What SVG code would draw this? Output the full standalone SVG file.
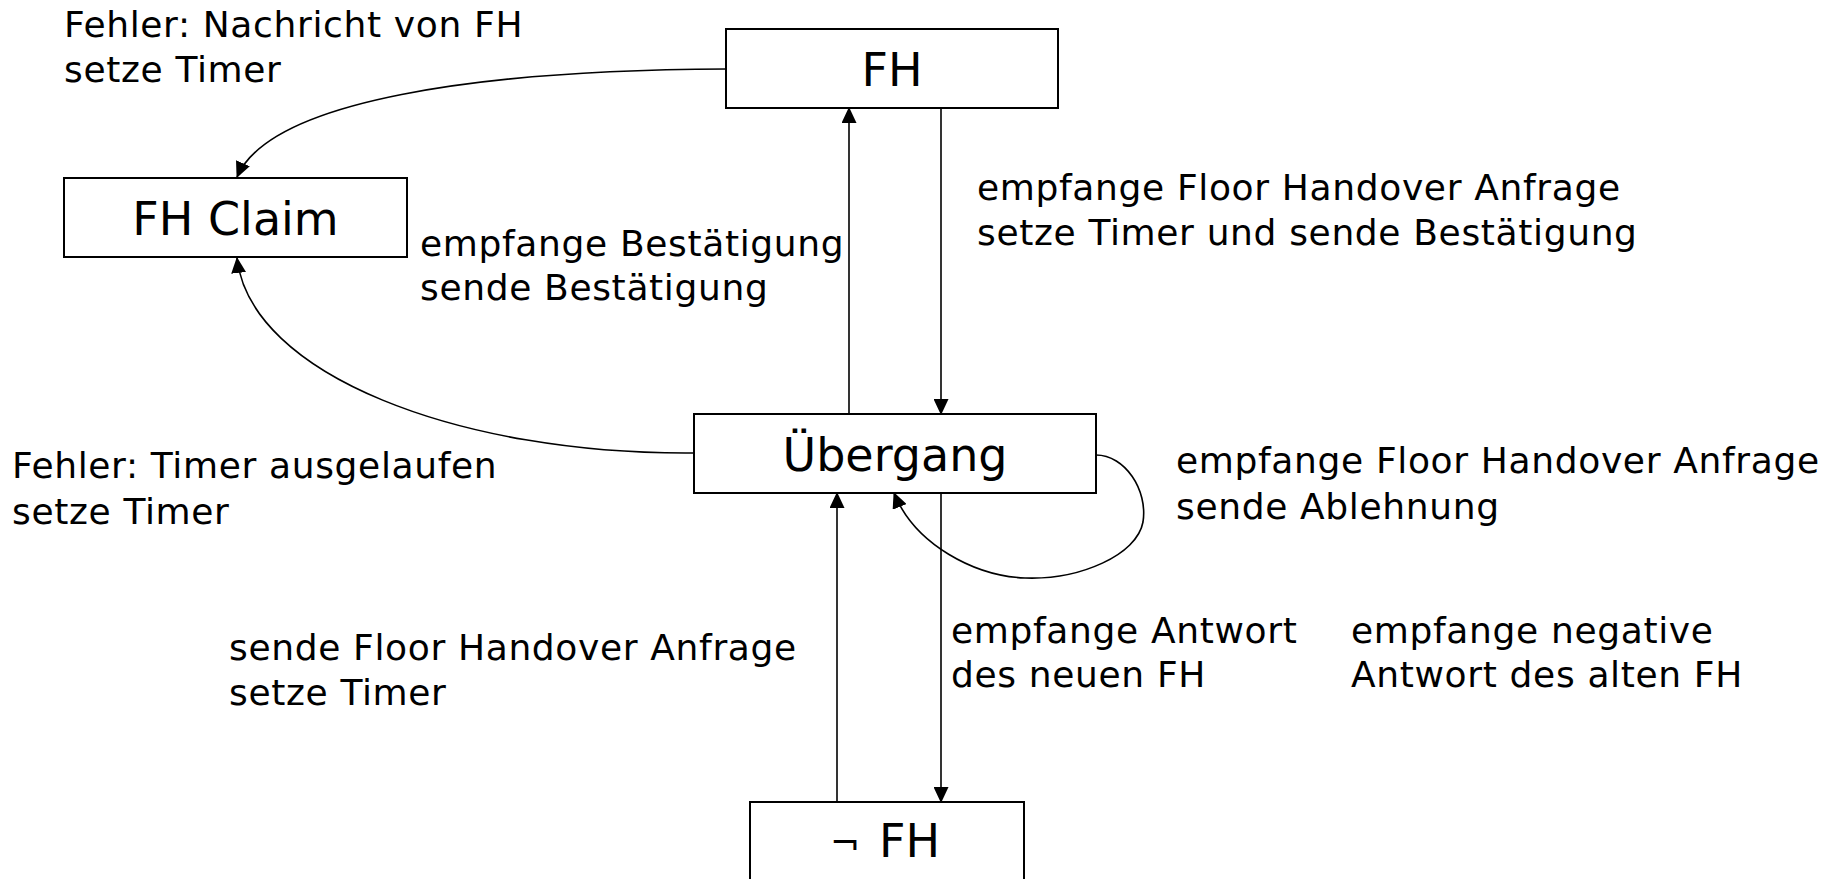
<svg xmlns="http://www.w3.org/2000/svg" width="1845" height="879" viewBox="0 0 1845 879">
<style>
.box{fill:#fff;stroke:#000;stroke-width:2}
.lbl{font-family:"DejaVu Sans","Verdana",sans-serif;font-size:46px;fill:#000;text-anchor:middle}
.t{font-family:"DejaVu Sans","Verdana",sans-serif;font-size:36px;fill:#000;letter-spacing:0.65px}
.c{fill:none;stroke:#000;stroke-width:1.6}
</style>
<defs>
<marker id="ah" markerUnits="userSpaceOnUse" markerWidth="16" markerHeight="15" refX="15" refY="7.5" orient="auto">
<path d="M0,0 L16,7.5 L0,15 z" fill="#000"/>
</marker>
</defs>
<rect width="1845" height="879" fill="#fff"/>
<g id="connectors">
<path class="c" d="M726,69 C480,70 270,100 237,177" marker-end="url(#ah)"/>
<path class="c" d="M694,453 C460,455 250,375 237,258" marker-end="url(#ah)"/>
<path class="c" d="M849,413 L849,108" marker-end="url(#ah)"/>
<path class="c" d="M941,101 L941,414" marker-end="url(#ah)"/>
<path class="c" d="M837,801 L837,493" marker-end="url(#ah)"/>
<path class="c" d="M941,493 L941,802" marker-end="url(#ah)"/>
<path class="c" d="M1096,455 C1125,455 1148,490 1143,522 C1137,555 1080,580 1025,578 C975,576 915,545 894,493" marker-end="url(#ah)"/>
</g>
<g id="node-fh">
<rect class="box" x="726" y="29" width="332" height="79"/>
<text class="lbl" x="892" y="86">FH</text>
</g>
<g id="node-fhclaim">
<rect class="box" x="64" y="178" width="343" height="79"/>
<text class="lbl" x="235.5" y="235">FH Claim</text>
</g>
<g id="node-uebergang">
<rect class="box" x="694" y="414" width="402" height="79"/>
<text class="lbl" x="895" y="471">Übergang</text>
</g>
<g id="node-notfh">
<rect class="box" x="750" y="802" width="274" height="90"/>
<text class="lbl" x="830" y="857" style="text-anchor:start"><tspan font-size="36" dy="-2">¬</tspan><tspan x="879" dy="2">FH</tspan></text>
</g>
<g id="labels">
<text class="t" x="64" y="37">Fehler: Nachricht von FH</text>
<text class="t" x="64" y="82">setze Timer</text>
<text class="t" x="420" y="256">empfange Bestätigung</text>
<text class="t" x="420" y="300">sende Bestätigung</text>
<text class="t" x="977" y="200">empfange Floor Handover Anfrage</text>
<text class="t" x="977" y="245">setze Timer und sende Bestätigung</text>
<text class="t" x="12" y="478">Fehler: Timer ausgelaufen</text>
<text class="t" x="12" y="524">setze Timer</text>
<text class="t" x="1176" y="473">empfange Floor Handover Anfrage</text>
<text class="t" x="1176" y="519">sende Ablehnung</text>
<text class="t" x="229" y="660">sende Floor Handover Anfrage</text>
<text class="t" x="229" y="705">setze Timer</text>
<text class="t" x="951" y="643">empfange Antwort</text>
<text class="t" x="951" y="687">des neuen FH</text>
<text class="t" x="1351" y="643">empfange negative</text>
<text class="t" x="1351" y="687">Antwort des alten FH</text>
</g>
</svg>
